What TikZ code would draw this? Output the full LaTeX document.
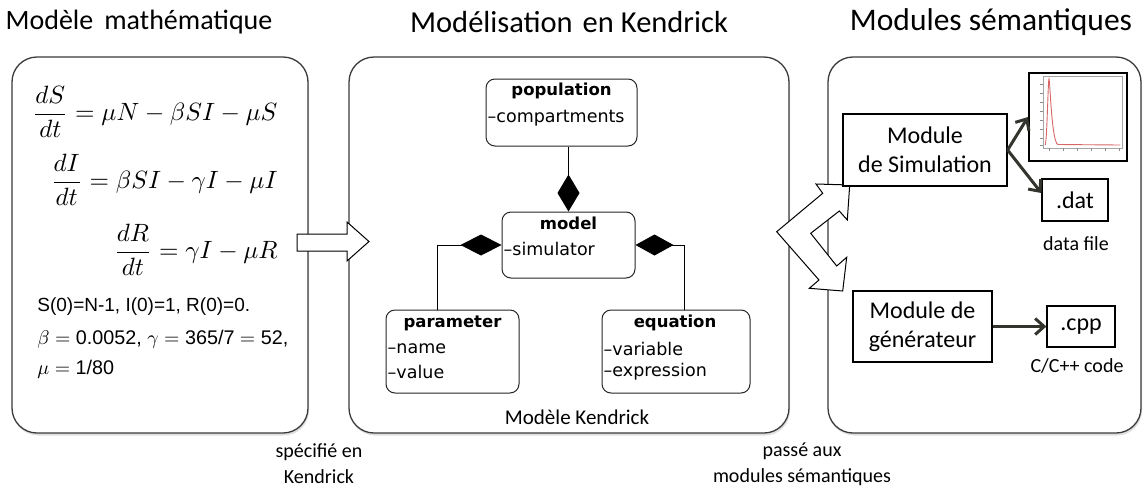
\documentclass[tikz,border=0pt]{standalone}
\usepackage{fontspec}
\setmainfont{Carlito}
\newfontfamily\umlfont{DejaVu Sans}
\newfontfamily\helv{Liberation Sans}
\usetikzlibrary{arrows.meta,shadows}
\definecolor{edge}{HTML}{3A3A3A}
\definecolor{arrowc}{HTML}{34342E}
\begin{document}
\begin{tikzpicture}[x=1pt,y=-1pt,
  panel/.style={draw=edge, line width=1.3pt, rounded corners=25pt, fill=white, inner sep=0pt,
    drop shadow={opacity=0.25, shadow xshift=1pt, shadow yshift=-2.5pt}},
  title/.style={inner sep=0pt},
  umlbox/.style={draw=black!85, line width=1pt, rounded corners=9pt, fill=white, inner sep=0pt},
  umlhead/.style={font=\umlfont\bfseries\fontsize{16.5}{19}\selectfont, inner sep=0pt},
  umlattr/.style={font=\umlfont\fontsize{17.5}{20}\selectfont, inner sep=0pt, anchor=west},
  conn/.style={draw=black, line width=1pt},
  mbox/.style={draw=black, line width=1.2pt, fill=white, inner sep=0pt, align=center, font=\fontsize{24}{29}\selectfont},
  thickarrow/.style={draw=arrowc, line width=3pt, -{Straight Barb[length=9pt,width=16pt,line width=3pt]}},
  lbl/.style={font=\fontsize{20}{26}\selectfont, inner sep=0pt, align=center},
  eqn/.style={font=\fontsize{10}{12}\selectfont, inner sep=0pt, anchor=east, scale=2.5, transform shape},
  small/.style={font=\helv\fontsize{10}{12}\selectfont, inner sep=0pt, anchor=west, scale=1.9, transform shape},
  blockarrow/.style={draw=black, line width=1pt, fill=white, line join=miter}
]
\useasboundingbox (0,0) rectangle (1148,488);

% titles
\node[title, font=\fontsize{28}{32}\selectfont] (t1) at (139,22) {Modèle\, mathématique};
\node[title, font=\fontsize{30.5}{35}\selectfont] (t2) at (569,22) {Modélisation\hspace{10pt}en\hspace{7pt}Kendrick};
\node[title, font=\fontsize{31.5}{36}\selectfont] (t3) at (991,22) {Modules sémantiques};

% panels
\node[panel, minimum width=296pt, minimum height=376pt] (pmath) at (160,245) {};
\node[panel, minimum width=440pt, minimum height=376pt] (pkend) at (569,245) {};
\node[panel, minimum width=313pt, minimum height=376pt] (psem) at (984.5,245) {};

% left panel: equations
\node[eqn] (eqS) at (278,112) {$\displaystyle\frac{dS}{dt}=\mu N-\beta SI-\mu S$};
\node[eqn] (eqI) at (278,180) {$\displaystyle\frac{dI}{dt}=\beta SI-\gamma I-\mu I$};
\node[eqn] (eqR) at (278,250) {$\displaystyle\frac{dR}{dt}=\gamma I-\mu R$};
\node[small] (init) at (37,307) {S(0)=N-1, I(0)=1, R(0)=0.};
\node[small, scale=1.04] (par1) at (37,339) {$\beta=\hbox{0.0052}$, $\gamma=\hbox{365/7}=\hbox{52}$,};
\node[small, scale=1.04] (par2) at (37,369) {$\mu=\hbox{1/80}$};

% block arrow between left and middle panels
\draw[blockarrow] (297,234) -- (347,234) -- (347,222) -- (369,241.5) -- (347,261) -- (347,251) -- (297,251) -- cycle;

% UML boxes
\node[umlbox, minimum width=151pt, minimum height=67pt] (pop) at (561.5,112.5) {};
\node[umlbox, minimum width=133pt, minimum height=66pt] (model) at (568.5,245) {};
\node[umlbox, minimum width=133pt, minimum height=83pt] (param) at (452.5,351.5) {};
\node[umlbox, minimum width=148pt, minimum height=83pt] (eqbox) at (676,351.5) {};

\node[umlhead] (popT) at (561.5,91) {population};
\node[umlattr] (popA) at (487.5,118) {–compartments};
\node[umlhead] (modT) at (568.5,223) {model};
\node[umlattr] (modA) at (503.5,249) {–simulator};
\node[umlhead] (parT) at (452.5,323) {parameter};
\node[umlattr] (parA) at (387.5,349) {–name};
\node[umlattr] (parB) at (387.5,372) {–value};
\node[umlhead] (eqT) at (675,323) {equation};
\node[umlattr] (eqA) at (603.5,349) {–variable};
\node[umlattr] (eqB) at (603.5,372) {–expression};

% composition connectors
\draw[conn, -{Diamond[length=37pt,width=22pt]}] (pop.south -| model.north) -- (model.north);
\draw[conn, -{Diamond[length=41pt,width=21pt]}] ([xshift=-15.5pt]param.north) |- (model.west);
\draw[conn, -{Diamond[length=38pt,width=21pt]}] ([xshift=8pt]eqbox.north) |- (model.east);

\node[lbl, font=\fontsize{21}{26}\selectfont] (mk) at (577,417) {Modèle Kendrick};

% zigzag double block arrow
\draw[blockarrow] (776.7,231.7) -- (822.7,193.3) -- (816,184) -- (849.7,185) -- (847.3,220) -- (839.3,211)
  -- (810.7,233.3) -- (836.7,266) -- (846.7,257.3) -- (842.7,291) -- (809.3,288.3) -- (819,280) -- cycle;

% right panel
\node[mbox, minimum width=164pt, minimum height=72pt] (sim) at (925,150) {Module\\de Simulation};
\node[mbox, minimum width=139pt, minimum height=71pt] (gen) at (922.5,326.5) {Module de\\générateur};
\node[mbox, minimum width=66pt, minimum height=42pt] (dat) at (1075,200) {.dat};
\node[mbox, minimum width=68pt, minimum height=41pt] (cpp) at (1081,326.5) {.cpp};
\node[draw=black, line width=2pt, fill=white, minimum width=98pt, minimum height=88pt, inner sep=0pt] (plot) at (1078,117) {};

% plot contents
\draw[black!35, line width=0.6pt] (1043,76) rectangle (1122,148);
\foreach \yy in {84,93,102,111,120,129,138,145} \draw[black!45, line width=0.5pt] (1040,\yy) -- (1043,\yy);
\foreach \xx in {1049,1063,1077,1091,1105,1119} \draw[black!45, line width=0.5pt] (\xx,148) -- (\xx,151);
\draw[red!75!black!60, line width=0.9pt] (1045,145) .. controls (1047,145) and (1048,79) .. (1049,79)
  .. controls (1050,79) and (1051.5,143) .. (1058,144.5) -- (1120,145);

\draw[thickarrow] (sim.east) -- (plot.west);
\draw[thickarrow] (sim.east) -- ([yshift=7pt]dat.west);
\draw[thickarrow] (gen.east) -- (cpp.west);

\node[lbl] (datl) at (1076,244) {data file};
\node[lbl] (cppl) at (1077,366) {C/C++ code};

% bottom labels
\node[lbl] (spec) at (319,464) {spécifié en\\Kendrick};
\node[lbl] (pass) at (802,464) {passé aux\\modules sémantiques};
\end{tikzpicture}
\end{document}
